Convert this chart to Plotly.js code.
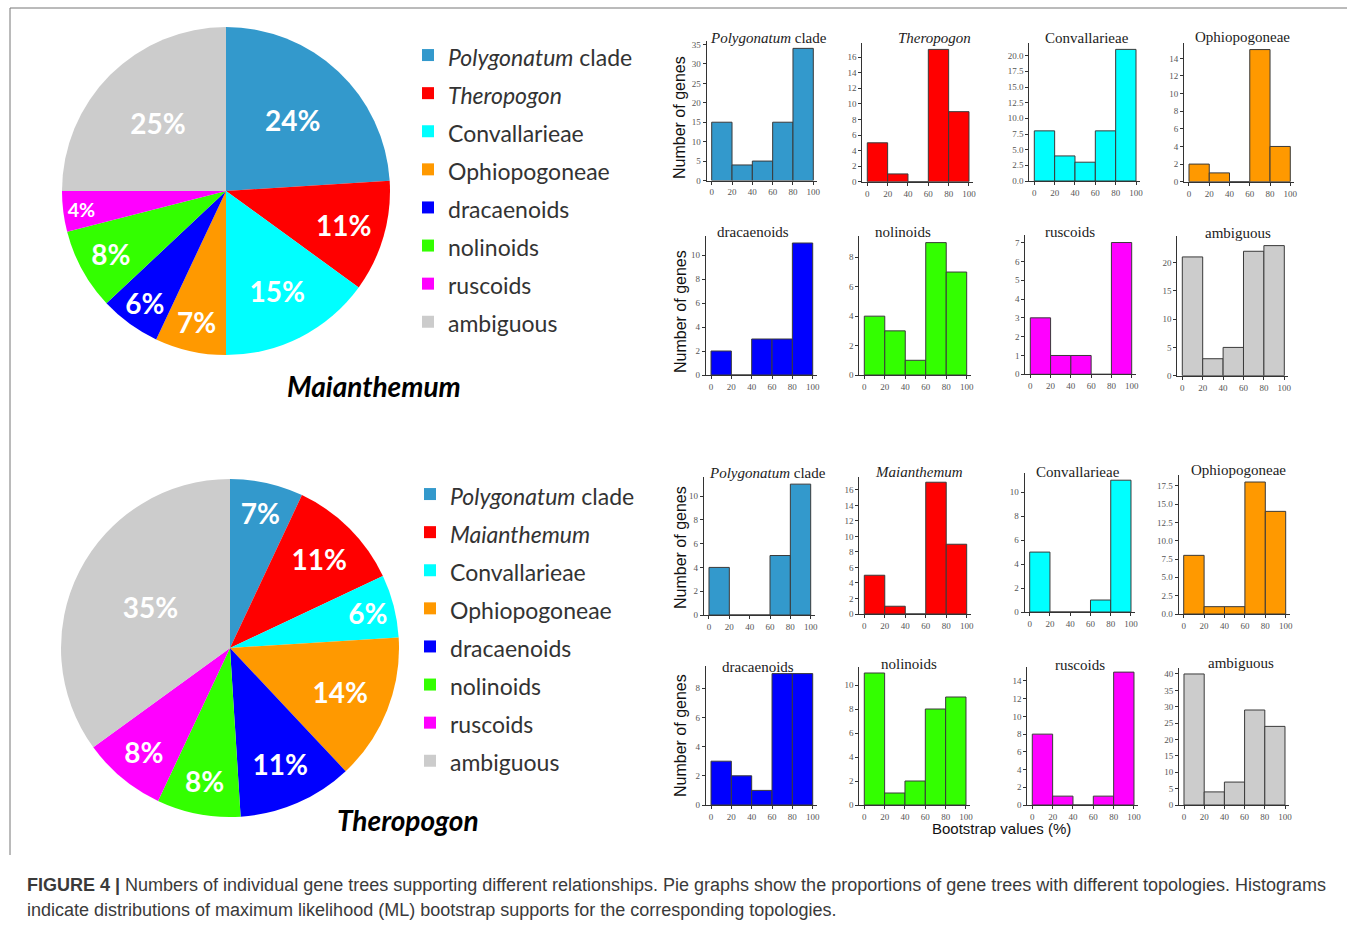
<!DOCTYPE html>
<html>
<head>
<meta charset="utf-8">
<script src="https://cdn.plot.ly/plotly-3.0.1.min.js"></script>
<style>
  html, body { margin: 0; padding: 0; background: #ffffff; }
  #chart { width: 1355px; height: 926px; }
</style>
</head>
<body>
<div id="chart"></div>
<script>
// ---------------- DATA ----------------
const categoriesMaian = ['Polygonatum clade', 'Theropogon', 'Convallarieae', 'Ophiopogoneae', 'dracaenoids', 'nolinoids', 'ruscoids', 'ambiguous'];
const categoriesThero = ['Polygonatum clade', 'Maianthemum', 'Convallarieae', 'Ophiopogoneae', 'dracaenoids', 'nolinoids', 'ruscoids', 'ambiguous'];
const pieMaianPct = [24, 11, 15, 7, 6, 8, 4, 25];
const pieTheroPct = [7, 11, 6, 14, 11, 8, 8, 35];

const binStarts = [0, 20, 40, 60, 80];
const xTickLabels = ['0', '20', '40', '60', '80', '100'];

// Maianthemum histograms (counts per 20% bootstrap bin)
const maianPolygonatum   = [15, 4, 5, 15, 34];
const maianTheropogon    = [5, 1, 0, 17, 9];
const maianConvallarieae = [8, 4, 3, 8, 21];
const maianOphiopogoneae = [2, 1, 0, 15, 4];
const maianDracaenoids   = [2, 0, 3, 3, 11];
const maianNolinoids     = [4, 3, 1, 9, 7];
const maianRuscoids      = [3, 1, 1, 0, 7];
const maianAmbiguous     = [21, 3, 5, 22, 23];

// Theropogon histograms
const theroPolygonatum   = [4, 0, 0, 5, 11];
const theroMaianthemum   = [5, 1, 0, 17, 9];
const theroConvallarieae = [5, 0, 0, 1, 11];
const theroOphiopogoneae = [8, 1, 1, 18, 14];
const theroDracaenoids   = [3, 2, 1, 9, 9];
const theroNolinoids     = [11, 1, 2, 8, 9];
const theroRuscoids      = [8, 1, 0, 1, 15];
const theroAmbiguous     = [40, 4, 7, 29, 24];

const xAxisTitle = 'Bootstrap values (%)';
const yAxisTitle = 'Number of genes';
const pieTitles = ['Maianthemum', 'Theropogon'];
const captionLine1 = 'Numbers of individual gene trees supporting different relationships. Pie graphs show the proportions of gene trees with different topologies. Histograms';
const captionLine2 = 'indicate distributions of maximum likelihood (ML) bootstrap supports for the corresponding topologies.';

// ---------------- STYLE / LAYOUT ----------------
const W = 1355, H = 926;
const fx = p => p / W;
const fy = p => 1 - p / H;
const italicNames = ['Polygonatum', 'Theropogon', 'Maianthemum'];
function fmt(name) {
  let s = name;
  italicNames.forEach(n => { s = s.replace(n, '<i>' + n + '</i>'); });
  return s;
}
// legend label: smaller visible text inside a taller legend line;
// the style string differs slightly per pie so the two pies keep separate legend entries
function legendLabel(name, styleTail) {
  return '<span style="font-size:23px' + styleTail + '">' + fmt(name) + '</span>';
}
const colorByName = {
  'Polygonatum clade': '#3399CC',
  'Theropogon': '#FF0000',
  'Maianthemum': '#FF0000',
  'Convallarieae': '#00FFFF',
  'Ophiopogoneae': '#FF9900',
  'dracaenoids': '#0000FF',
  'nolinoids': '#33FF00',
  'ruscoids': '#FF00FF',
  'ambiguous': '#CCCCCC'
};

const panels = [
  // row 1
  {cat: 'Polygonatum clade', vals: maianPolygonatum,   g: [711.7, 813.3, 180.5, 40.6, 36],  dt: 5,   fmt: '',    t: [768, 38]},
  {cat: 'Theropogon',        vals: maianTheropogon,    g: [867.3, 969.0, 181.7, 43.2, 17.8], dt: 2,  fmt: '',    t: [934, 38]},
  {cat: 'Convallarieae',     vals: maianConvallarieae, g: [1034.3, 1136, 181.0, 42.5, 22.1], dt: 2.5, fmt: '.1f', t: [1087, 38]},
  {cat: 'Ophiopogoneae',     vals: maianOphiopogoneae, g: [1189, 1290.3, 181.7, 43.4, 15.7], dt: 2,  fmt: '',    t: [1242, 37]},
  // row 2
  {cat: 'dracaenoids', vals: maianDracaenoids, g: [711, 812.7, 375, 235.8, 11.6],   dt: 2, fmt: '', t: [753, 232]},
  {cat: 'nolinoids',   vals: maianNolinoids,   g: [864.3, 966.7, 375, 236, 9.45],   dt: 2, fmt: '', t: [903, 232]},
  {cat: 'ruscoids',    vals: maianRuscoids,    g: [1030.3, 1131.7, 374.3, 235, 7.4], dt: 1, fmt: '', t: [1070, 232]},
  {cat: 'ambiguous',   vals: maianAmbiguous,   g: [1182.3, 1284.3, 375.7, 236, 24.7], dt: 5, fmt: '', t: [1238, 233]},
  // row 3
  {cat: 'Polygonatum clade', vals: theroPolygonatum,   g: [709, 810.7, 615, 477, 11.6],     dt: 2,   fmt: '',    t: [767, 473]},
  {cat: 'Maianthemum',       vals: theroMaianthemum,   g: [864.3, 966.7, 614, 476.8, 17.7], dt: 2,   fmt: '',    t: [919, 472]},
  {cat: 'Convallarieae',     vals: theroConvallarieae, g: [1029.7, 1131, 612, 473, 11.6],   dt: 2,   fmt: '',    t: [1078, 472]},
  {cat: 'Ophiopogoneae',     vals: theroOphiopogoneae, g: [1183.7, 1285.7, 614, 474.7, 19], dt: 2.5, fmt: '.1f', t: [1238, 470]},
  // row 4
  {cat: 'dracaenoids', vals: theroDracaenoids, g: [711, 812.7, 805, 666.3, 9.5],   dt: 2, fmt: '', t: [758, 667]},
  {cat: 'nolinoids',   vals: theroNolinoids,   g: [864.3, 966, 805, 667, 11.5],    dt: 2, fmt: '', t: [909, 664]},
  {cat: 'ruscoids',    vals: theroRuscoids,    g: [1032.3, 1134, 805, 666.8, 15.6], dt: 2, fmt: '', t: [1080, 665]},
  {cat: 'ambiguous',   vals: theroAmbiguous,   g: [1184, 1285, 805, 668.4, 41.7],  dt: 5, fmt: '', t: [1241, 663]}
];

const serif = 'Liberation Serif, Times New Roman, serif';
const sans = 'Liberation Sans, Arial, sans-serif';
const pieFont = 'Lato, Open Sans, sans-serif';

const traces = [];
const legendBase = {
  xanchor: 'left', yanchor: 'top',
  bgcolor: 'rgba(0,0,0,0)', font: {family: pieFont, size: 27, color: '#333'},
  itemclick: false, itemdoubleclick: false
};
const layout = {
  width: W, height: H,
  margin: {l: 0, r: 0, t: 0, b: 0},
  paper_bgcolor: '#ffffff',
  plot_bgcolor: 'rgba(0,0,0,0)',
  showlegend: true,
  annotations: [],
  shapes: [
    {type: 'line', xref: 'paper', yref: 'paper', x0: fx(10), x1: fx(1347), y0: fy(8), y1: fy(8), line: {color: '#777', width: 1}},
    {type: 'line', xref: 'paper', yref: 'paper', x0: fx(10), x1: fx(10), y0: fy(8), y1: fy(855), line: {color: '#777', width: 1}}
  ],
  legend: Object.assign({}, legendBase, {x: fx(408), y: fy(31)}),
  legend2: Object.assign({}, legendBase, {x: fx(410), y: fy(470)})
};

// pies
function addPie(cats, vals, dom, legendName, styleTail) {
  traces.push({
    type: 'pie',
    labels: cats.map(c => legendLabel(c, styleTail)),
    values: vals,
    sort: false,
    direction: 'clockwise',
    rotation: 0,
    marker: {colors: cats.map(c => colorByName[c]), line: {width: 0}},
    texttemplate: '%{value}%',
    textposition: 'inside',
    insidetextorientation: 'horizontal',
    textfont: {family: pieFont, size: 28, color: '#ffffff', weight: 'bold'},
    domain: dom,
    legend: legendName,
    hoverinfo: 'value'
  });
}
addPie(categoriesMaian, pieMaianPct, {x: [fx(62), fx(390)], y: [fy(355), fy(27)]}, 'legend', '');
addPie(categoriesThero, pieTheroPct, {x: [fx(61), fx(399)], y: [fy(817), fy(479)]}, 'legend2', ';');

layout.annotations.push(
  {xref: 'paper', yref: 'paper', x: fx(374), y: fy(386), xanchor: 'center', yanchor: 'middle', showarrow: false,
   text: '<b><i>' + pieTitles[0] + '</i></b>', font: {family: pieFont, size: 28, color: '#000'}},
  {xref: 'paper', yref: 'paper', x: fx(408), y: fy(820), xanchor: 'center', yanchor: 'middle', showarrow: false,
   text: '<b><i>' + pieTitles[1] + '</i></b>', font: {family: pieFont, size: 28, color: '#000'}}
);

// histograms
panels.forEach((p, i) => {
  const n = i + 1;
  const xa = 'xaxis' + n, ya = 'yaxis' + n;
  const [x0, x100, y0, yTop, ymax] = p.g;
  const s = (x100 - x0) / 100;
  traces.push({
    type: 'bar',
    x: binStarts,
    y: p.vals,
    width: 20,
    offset: 0,
    marker: {color: colorByName[p.cat], line: {color: '#3a3a3a', width: 1}},
    xaxis: 'x' + n, yaxis: 'y' + n,
    showlegend: false,
    hoverinfo: 'y'
  });
  layout[xa] = {
    domain: [fx(x0 - 5 * s), fx(x0 + 104 * s)],
    range: [-5, 104],
    anchor: 'y' + n,
    tickvals: [0, 20, 40, 60, 80, 100],
    ticktext: xTickLabels,
    showline: true, linecolor: '#333', linewidth: 1,
    ticks: 'outside', ticklen: 3, tickwidth: 1, tickcolor: '#333',
    tickfont: {family: serif, size: 9, color: '#555'},
    showgrid: false, zeroline: false, fixedrange: true
  };
  layout[ya] = {
    domain: [fy(y0), fy(yTop)],
    range: [0, ymax],
    anchor: 'x' + n,
    dtick: p.dt, tick0: 0, tickformat: p.fmt,
    showline: true, linecolor: '#333', linewidth: 1,
    ticks: 'outside', ticklen: 3, tickwidth: 1, tickcolor: '#333',
    tickfont: {family: serif, size: 9, color: '#555'},
    showgrid: false, zeroline: false, fixedrange: true
  };
  layout.annotations.push({
    xref: 'paper', yref: 'paper', x: fx(p.t[0]), y: fy(p.t[1]), xanchor: 'center', yanchor: 'middle',
    showarrow: false, text: fmt(p.cat), font: {family: serif, size: 15, color: '#222'}
  });
});

// y axis titles for each row
[118, 312, 548, 736].forEach(yc => {
  layout.annotations.push({
    xref: 'paper', yref: 'paper', x: fx(680), y: fy(yc), xanchor: 'center', yanchor: 'middle',
    showarrow: false, textangle: -90, text: yAxisTitle, font: {family: sans, size: 16, color: '#111'}
  });
});
layout.annotations.push({
  xref: 'paper', yref: 'paper', x: fx(1001), y: fy(828), xanchor: 'center', yanchor: 'middle',
  showarrow: false, text: xAxisTitle, font: {family: sans, size: 15, color: '#111'}
});

// caption
layout.annotations.push(
  {xref: 'paper', yref: 'paper', x: fx(25), y: fy(885), xanchor: 'left', yanchor: 'middle', showarrow: false,
   text: '<b>FIGURE 4 |</b> ' + captionLine1, font: {family: sans, size: 18, color: '#3a3a3a'}},
  {xref: 'paper', yref: 'paper', x: fx(25), y: fy(910), xanchor: 'left', yanchor: 'middle', showarrow: false,
   text: captionLine2, font: {family: sans, size: 18, color: '#3a3a3a'}}
);

Plotly.newPlot('chart', traces, layout, {displayModeBar: false, staticPlot: true});
</script>
</body>
</html>
